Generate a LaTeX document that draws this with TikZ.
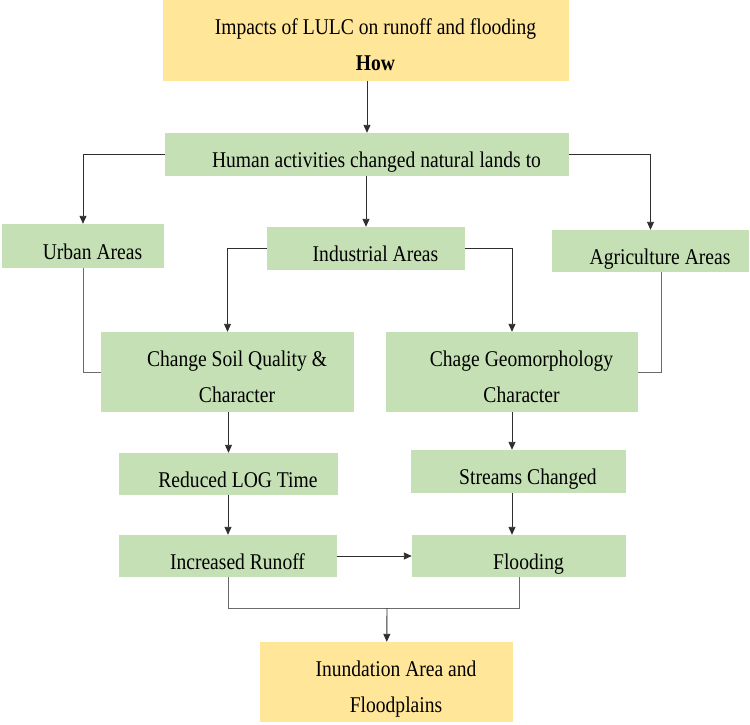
\documentclass[tikz,border=0pt]{standalone}
\usepackage{fontspec}
\setmainfont[FakeStretch=0.87]{Liberation Serif}
\usetikzlibrary{arrows.meta, positioning}
\definecolor{leaf}{HTML}{C5E0B4}
\definecolor{sand}{HTML}{FFE699}
\definecolor{wire}{HTML}{2E2E2E}
\definecolor{wiresoft}{HTML}{6A6A6A}
\tikzset{
  box/.style  = {fill=leaf, inner sep=0pt, align=center,
                 text height=26pt, text depth=0pt,
                 execute at begin node={\hspace*{19pt}},
                 font=\fontsize{22.5}{36}\selectfont},
  tall/.style = {text height=60pt, text depth=0pt},
  head/.style = {box, fill=sand},
  arr/.style  = {-{Triangle[length=8pt,width=7pt]}, wire, line width=0.9pt},
  lin/.style  = {wiresoft, line width=1pt},
}

\begin{document}
\begin{tikzpicture}[x=1pt, y=-1pt]
  \useasboundingbox (0,0) rectangle (750,724);

  % --- top ---
  \node[head, tall, minimum width=406pt, minimum height=81pt] (title) at (366,40.5)
        {Impacts of LULC on runoff and flooding\\\textbf{How}};
  \node[box, minimum width=404pt, minimum height=43pt] (human) at (367,154.5)
        {Human activities changed natural lands to};

  % --- land types ---
  \node[box, minimum width=162pt, minimum height=44pt] (urban) at (83,246)
        {Urban Areas};
  \node[box, minimum width=198pt, minimum height=43pt] (ind) at (366,248.5)
        {Industrial Areas};
  \node[box, minimum width=197pt, minimum height=42pt] (agri) at (650.5,251)
        {Agriculture Areas};

  % --- left / right chains ---
  \node[box, tall, minimum width=253pt, minimum height=80pt] (soil) at (227.5,372)
        {Change Soil Quality \&\\Character};
  \node[box, tall, minimum width=252pt, minimum height=80pt] (geo) at (512,372)
        {Chage Geomorphology\\Character};
  \node[box, minimum width=219pt, minimum height=42pt] (reduced) at (228.5,474)
        {Reduced LOG Time};
  \node[box, minimum width=215pt, minimum height=43pt] (streams) at (518.5,471.5)
        {Streams Changed};
  \node[box, minimum width=218pt, minimum height=42pt] (runoff) at (228,556)
        {Increased Runoff};
  \node[box, minimum width=214pt, minimum height=42pt] (flood) at (519,556)
        {Flooding};

  % --- output ---
  \node[head, tall, minimum width=253pt, minimum height=80pt] (inund) at (386.5,682)
        {Inundation Area and\\Floodplains};
  \coordinate (join) at (387,608);

  % --- arrows ---
  \draw[arr] (title.south -| human) -- (human);
  \draw[arr] (human.west) -| (urban.north);
  \draw[arr] (human.south -| ind) -- (ind);
  \draw[arr] (human.east) -| (agri.north);
  \draw[arr] (ind.west) -| (soil.north);
  \draw[arr] (ind.east) -| (geo.north);
  \draw[lin] (urban.south) |- (soil.west);
  \draw[lin] ([xshift=10.5pt]agri.south) |- (geo.east);
  \draw[arr] (soil.south -| reduced) -- (reduced.north);
  \draw[arr] (geo.south) -- (geo.south |- streams.north);
  \draw[arr] (reduced.south -| runoff) -- (runoff.north);
  \draw[arr] (geo.south |- streams.south) -- (geo.south |- flood.north);
  \draw[arr] (runoff) -- (flood);
  \draw[lin] (runoff.south) |- (join) -| (flood.south);
  \draw[arr] (join) -- (inund);

\end{tikzpicture}
\end{document}
